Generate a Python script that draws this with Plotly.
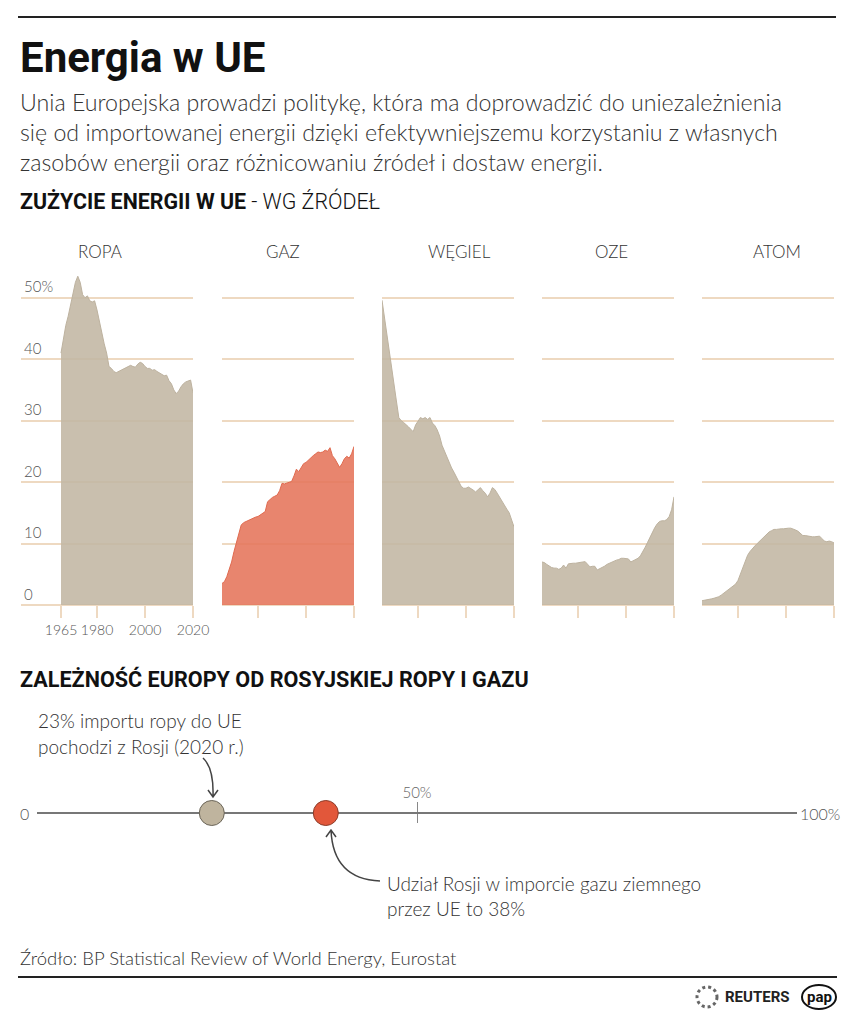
import plotly.graph_objects as go

W, H = 854, 1024
FONT = "Roboto"
LIGHT = "Lato"

# --- dane: zużycie energii w UE wg źródeł (% udziału), 1965-2020 ---
years = list(range(1965, 2021))
ropa = [41.0, 43.5, 45.5, 47.0, 49.0, 51.0, 52.5, 53.5, 52.5, 50.5,
        50.0, 50.3, 49.5, 49.3, 49.5, 48.0, 46.0, 44.0, 42.5, 41.0,
        38.8, 38.5, 38.0, 37.8, 38.0, 38.2, 38.5, 38.6, 38.9, 39.0,
        38.8, 38.7, 39.2, 39.5, 39.3, 38.8, 38.5, 38.5, 38.2, 38.3,
        38.0, 37.8, 37.5, 37.3, 37.4, 36.5, 36.0, 35.0, 34.4, 34.8,
        35.5, 36.0, 36.3, 36.5, 36.6, 34.5]
gaz = [3.5, 3.8, 4.6, 5.7, 7.0, 8.7, 10.3, 11.9, 13.0, 13.4,
       13.6, 13.8, 14.0, 14.2, 14.3, 14.4, 14.7, 15.0, 15.2, 16.8,
       17.2, 17.5, 17.7, 17.9, 18.6, 19.8, 19.7, 19.8, 20.0, 20.1,
       21.0, 22.1, 21.7, 22.3, 23.0, 23.2, 23.6, 23.9, 24.3, 24.6,
       24.9, 24.8, 24.9, 25.2, 25.0, 25.6, 24.3, 23.8, 23.1, 22.4,
       23.0, 23.8, 24.2, 23.9, 24.6, 25.8]
wegiel = [49.6, 47.0, 44.3, 41.5, 38.8, 36.0, 33.2, 30.5, 30.0, 29.7,
          29.4, 29.0, 28.6, 28.2, 29.3, 30.0, 30.5, 30.3, 30.5, 30.2,
          30.5, 29.6, 29.2, 28.5, 27.5, 26.0, 25.0, 24.0, 23.1, 22.3,
          21.6, 20.9, 20.0, 19.3, 19.0, 19.0, 19.2, 19.0, 18.7, 18.4,
          18.8, 19.1, 18.6, 18.2, 17.6, 18.2, 19.1, 18.8, 18.2, 17.5,
          16.9, 16.3, 15.6, 15.0, 13.8, 12.7]
oze = [7.0, 6.9, 6.6, 6.3, 6.1, 6.0, 6.0, 5.8, 6.0, 6.5,
       6.0, 6.7, 6.8, 6.8, 6.8, 6.9, 7.0, 7.0, 7.05, 6.6,
       6.2, 6.3, 6.3, 5.7, 5.9, 6.0, 6.3, 6.6, 6.8, 7.0,
       7.1, 7.3, 7.4, 7.6, 7.6, 7.6, 7.5, 7.0, 7.2, 7.4,
       7.6, 8.0, 8.6, 9.4, 10.2, 11.0, 11.9, 12.6, 13.2, 13.6,
       13.7, 13.7, 13.9, 14.4, 15.5, 17.6]
atom = [0.7, 0.75, 0.8, 0.9, 1.0, 1.1, 1.2, 1.35, 1.6, 1.9,
        2.2, 2.5, 2.8, 3.0, 3.4, 4.0, 5.0, 6.2, 7.2, 8.1,
        8.7, 9.2, 9.6, 10.0, 10.4, 10.8, 11.2, 11.6, 11.9, 12.1,
        12.3, 12.3, 12.4, 12.4, 12.4, 12.5, 12.5, 12.5, 12.4, 12.2,
        12.0, 11.6, 11.3, 11.3, 11.2, 11.2, 11.1, 11.1, 11.1, 11.2,
        10.8, 10.4, 10.3, 10.4, 10.3, 10.1]

panel_names = ["ROPA", "GAZ", "WĘGIEL", "OZE", "ATOM"]
panel_series = [ropa, gaz, wegiel, oze, atom]
y_tickvals = [0, 10, 20, 30, 40, 50]
y_ticktext = ["0", "10", "20", "30", "40", "50%"]
x_tickvals_first = [1965, 1980, 2000, 2020]
x_tickvals_rest = [1980, 2000, 2020]

# --- dane: zależność od rosyjskiej ropy i gazu (%) ---
dependency_values = [23, 38]
scale_limits = [0, 100]
scale_mid = [50]

BEIGE = "rgba(193,182,163,0.88)"
BEIGE_LINE = "#bdb29f"
RED = "rgba(229,116,90,0.88)"
RED_LINE = "#e06a4f"
GRID = "#eed9c1"
TEXT = "#333333"


def px_x(x):
    return x / W


def px_y(y):
    return 1 - y / H


fig = go.Figure()

# pozycje paneli w pikselach
data_left = [61, 222, 382, 542, 702]
panel_w = 132
first_grid_left = 21
y_top_px, y_bottom_px = 267, 605
title_x = [100, 283, 459, 611, 777]

for i, (name, vals) in enumerate(zip(panel_names, panel_series)):
    n = "" if i == 0 else str(i + 1)
    fill = RED if name == "GAZ" else BEIGE
    line = RED_LINE if name == "GAZ" else BEIGE_LINE
    fig.add_trace(go.Scatter(
        x=years, y=vals, mode="lines", fill="tozeroy",
        fillcolor=fill, line=dict(color=line, width=1),
        xaxis="x" + n, yaxis="y" + n, hoverinfo="x+y", showlegend=False,
    ))

    if i == 0:
        dom_left = first_grid_left
        x0 = years[0] - (data_left[0] - first_grid_left) / (panel_w / (years[-1] - years[0]))
    else:
        dom_left = data_left[i]
        x0 = years[0]
    dom_right = data_left[i] + panel_w

    fig.update_layout(**{
        "xaxis" + n: dict(
            domain=[px_x(dom_left), px_x(dom_right)],
            range=[x0, years[-1]], anchor="y" + n, automargin=False,
            showgrid=False, zeroline=False, showline=False,
            tickvals=x_tickvals_first if i == 0 else x_tickvals_rest,
            ticks="outside", ticklen=12, tickwidth=1.5, tickcolor=GRID,
            showticklabels=(i == 0), tickangle=0,
            tickfont=dict(family=LIGHT, size=14, color="#555", weight=300),
            fixedrange=True,
        ),
        "yaxis" + n: dict(
            domain=[px_y(y_bottom_px), px_y(y_top_px)],
            range=[0, 55], anchor="x" + n, automargin=False,
            tickvals=y_tickvals, ticktext=y_ticktext,
            showgrid=True, gridcolor=GRID, gridwidth=1.5,
            zeroline=True, zerolinecolor=GRID, zerolinewidth=1.5,
            showline=False, ticks="",
            showticklabels=(i == 0),
            ticklabelposition="inside top",
            tickfont=dict(family=LIGHT, size=15, color="#555", weight=300),
            fixedrange=True,
        ),
    })

    fig.add_annotation(
        x=px_x(title_x[i]), y=px_y(251), xref="paper", yref="paper",
        text=name, showarrow=False, xanchor="center", yanchor="middle",
        font=dict(family=LIGHT, size=17, color=TEXT, weight=300),
    )

# --- oś zależności ---
fig.add_trace(go.Scatter(
    x=scale_limits, y=[0, 0], mode="lines",
    line=dict(color="#777", width=2),
    xaxis="x6", yaxis="y6", hoverinfo="skip", showlegend=False,
))
fig.add_trace(go.Scatter(
    x=dependency_values, y=[0, 0], mode="markers",
    marker=dict(size=25, color=["#bfb49e", "#e2573a"],
                line=dict(color=["#6b6558", "#8c3b28"], width=1)),
    xaxis="x6", yaxis="y6", cliponaxis=False,
    hovertemplate="%{x}%<extra></extra>", showlegend=False,
))
fig.update_layout(
    xaxis6=dict(
        domain=[px_x(37), px_x(797)], range=[0, 100], anchor="y6",
        automargin=False,
        tickvals=scale_mid, ticktext=["50%"], side="top",
        showgrid=True, gridcolor="#888", gridwidth=1,
        zeroline=False, showline=False, ticks="",
        tickfont=dict(family=LIGHT, size=15, color="#666", weight=300),
        fixedrange=True,
    ),
    yaxis6=dict(
        domain=[px_y(823), px_y(802)], range=[-1, 1.1], anchor="x6",
        automargin=False, visible=False, fixedrange=True,
    ),
)
fig.add_annotation(x=0, y=0, xref="x6", yref="y6", text="0", showarrow=False,
                   xanchor="right", xshift=-6,
                   font=dict(family=LIGHT, size=16, color="#555", weight=300))
fig.add_annotation(x=100, y=0, xref="x6", yref="y6", text="100%", showarrow=False,
                   xanchor="left", xshift=1,
                   font=dict(family=LIGHT, size=16, color="#555", weight=300))

# --- teksty ---
texts = [
    (18, 57, "<b>Energia w UE</b>", FONT, 42, "#111", 400),
    (18, 102, "Unia Europejska prowadzi politykę, która ma doprowadzić do uniezależnienia", LIGHT, 23.2, TEXT, 300),
    (18, 132, "się od importowanej energii dzięki efektywniejszemu korzystaniu z własnych", LIGHT, 23.2, TEXT, 300),
    (18, 162, "zasobów energii oraz różnicowaniu źródeł i dostaw energii.", LIGHT, 23.2, TEXT, 300),
    (18, 201, "<b>ZUŻYCIE ENERGII W UE</b> - WG ŹRÓDEŁ", FONT, 21.4, "#111", 300),
    (18, 679, "<b>ZALEŻNOŚĆ EUROPY OD ROSYJSKIEJ ROPY I GAZU</b>", FONT, 21.6, "#111", 400),
    (36, 720, "23% importu ropy do UE", LIGHT, 19, TEXT, 300),
    (36, 746, "pochodzi z Rosji (2020 r.)", LIGHT, 19, TEXT, 300),
    (385, 883, "Udział Rosji w imporcie gazu ziemnego", LIGHT, 19, TEXT, 300),
    (385, 908, "przez UE to 38%", LIGHT, 19, TEXT, 300),
    (18, 958, "Źródło: BP Statistical Review of World Energy, Eurostat", LIGHT, 18.5, TEXT, 300),
    (723, 997, "<b>REUTERS</b>", FONT, 15, "#222", 400),
    (819, 997, "<b>pap</b>", FONT, 15, "#111", 400),
]
for x, y, t, fam, size, color, weight in texts:
    fig.add_annotation(
        x=px_x(x), y=px_y(y), xref="paper", yref="paper", text=t,
        showarrow=False, xanchor="center" if t == "<b>pap</b>" else "left",
        yanchor="middle",
        font=dict(family=fam, size=size, color=color, weight=weight),
    )


def p(x, y):
    return f"{px_x(x):.5f},{px_y(y):.5f}"


arrow1 = f"M{p(203, 758)} Q{p(214, 768)} {p(213, 797)} M{p(208, 790)} L{p(213, 797)} L{p(218, 790)}"
arrow2 = f"M{p(380, 881)} Q{p(333, 879)} {p(331, 830)} M{p(326, 837)} L{p(331, 830)} L{p(336, 837)}"

shapes = [
    dict(type="line", xref="paper", yref="paper", x0=px_x(18), x1=px_x(836),
         y0=px_y(17), y1=px_y(17), line=dict(color="#222", width=2)),
    dict(type="line", xref="paper", yref="paper", x0=px_x(18), x1=px_x(837),
         y0=px_y(977), y1=px_y(977), line=dict(color="#222", width=2)),
    dict(type="path", xref="paper", yref="paper", path=arrow1,
         line=dict(color="#444", width=1.5)),
    dict(type="path", xref="paper", yref="paper", path=arrow2,
         line=dict(color="#444", width=1.5)),
    # logo Reuters i PAP
    dict(type="circle", xref="paper", yref="paper",
         x0=px_x(697), x1=px_x(717), y0=px_y(1007), y1=px_y(987),
         line=dict(color="#666", width=3, dash="dot")),
    dict(type="circle", xref="paper", yref="paper",
         x0=px_x(802), x1=px_x(836), y0=px_y(1009), y1=px_y(985),
         line=dict(color="#111", width=2)),
]

fig.update_layout(
    width=W, height=H,
    margin=dict(l=0, r=0, t=0, b=0, pad=0, autoexpand=False),
    paper_bgcolor="white", plot_bgcolor="rgba(0,0,0,0)",
    font=dict(family=FONT, color=TEXT),
    shapes=shapes,
    showlegend=False,
)

# strona bez marginesów i pasków przewijania, żeby wykres miał dokładnie 854x1024
post = ("document.documentElement.style.overflow='hidden';"
        "document.body.style.margin='0';"
        "document.body.style.overflow='hidden';")
fig.write_html("out.html", post_script=post,
               config={"displayModeBar": False, "responsive": False})
